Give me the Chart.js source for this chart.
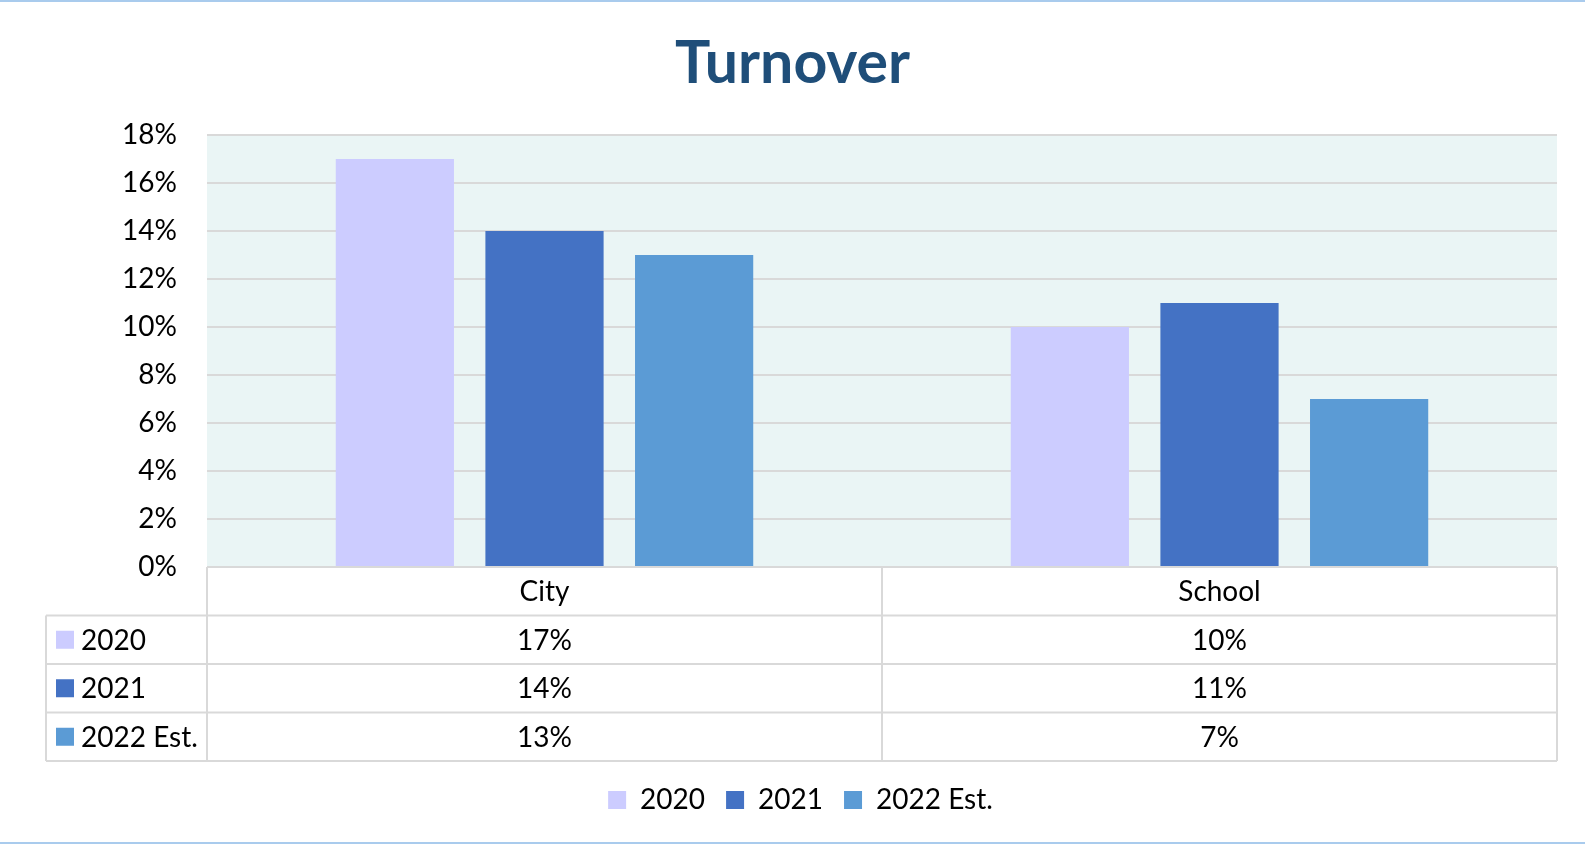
<!DOCTYPE html>
<html>
<head>
<meta charset="utf-8">
<title>Turnover</title>
<script src="https://cdn.jsdelivr.net/npm/chart.js@4"></script>
<style>
  html, body { margin: 0; padding: 0; background: #fff; }
  #wrap { position: relative; width: 1585px; height: 844px; overflow: hidden; }
  #wrap:before, #wrap:after {
    content: ""; position: absolute; left: 0; right: 0; height: 2px; background: #a9cbed;
  }
  #wrap:before { top: 0; }
  #wrap:after { bottom: 0; }
  canvas { display: block; }
</style>
</head>
<body>
<div id="wrap">
  <canvas id="turnoverChart" width="1585" height="844"></canvas>
</div>
<script>
// data
const categories = ["City", "School"];
const seriesNames = ["2020", "2021", "2022 Est."];
const values2020 = [17, 10];
const values2021 = [14, 11];
const values2022 = [13, 7];
const yTicks = [0, 2, 4, 6, 8, 10, 12, 14, 16, 18];

const colors = ["#ccccff", "#4472c4", "#5b9bd5"];
const FONT = "Lato, 'Open Sans', sans-serif";
const TXT = 28;
const lineColor = "#d9d9d9";

// light teal plot background
const plotBg = {
    id: "plotBg",
    beforeDraw(chart) {
        const {ctx, chartArea: a} = chart;
        ctx.save();
        ctx.fillStyle = "#eaf5f5";
        ctx.fillRect(a.left, a.top, a.right - a.left, a.bottom - a.top);
        ctx.restore();
    }
};

// centre title and legend on the whole canvas rather than the padded box
const nudge = {
    id: "nudge",
    afterLayout(chart) {
        chart.titleBlock.left += 14;
        chart.titleBlock.right += 14;
        chart.legend.left += 22;
        chart.legend.right += 22;
    }
};

// data table under the plot
const dataTable = {
    id: "dataTable",
    afterDraw(chart) {
        const {ctx, chartArea: a} = chart;
        const x = chart.scales.x;
        const rowH = 48.5;
        const top = a.bottom;
        const tableLeft = 46;
        const rows = chart.data.datasets.length;
        const bottom = top + rowH * (rows + 1);

        ctx.save();
        ctx.strokeStyle = lineColor;
        ctx.lineWidth = 2;

        // column edges
        const centers = categories.map((c, i) => x.getPixelForValue(i));
        const edges = [a.left];
        for (let i = 0; i < centers.length - 1; i++) edges.push((centers[i] + centers[i + 1]) / 2);
        edges.push(a.right);

        ctx.beginPath();
        ctx.moveTo(a.left, top); ctx.lineTo(a.right, top);
        for (let r = 1; r <= rows + 1; r++) {
            const y = top + r * rowH;
            ctx.moveTo(tableLeft, y); ctx.lineTo(a.right, y);
        }
        edges.forEach(ex => { ctx.moveTo(ex, top); ctx.lineTo(ex, bottom); });
        ctx.moveTo(tableLeft, top + rowH); ctx.lineTo(tableLeft, bottom);
        ctx.stroke();

        ctx.fillStyle = "#000";
        ctx.font = TXT + "px " + FONT;
        ctx.textBaseline = "middle";
        ctx.textAlign = "center";
        categories.forEach((c, i) => ctx.fillText(c, centers[i], top + rowH / 2 + 1));

        chart.data.datasets.forEach((ds, r) => {
            const cy = top + rowH * (r + 1.5);
            ctx.fillStyle = ds.backgroundColor;
            ctx.fillRect(56, cy - 9, 18, 18);
            ctx.fillStyle = "#000";
            ctx.textAlign = "left";
            ctx.fillText(ds.label, 81, cy + 1);
            ctx.textAlign = "center";
            ds.data.forEach((v, i) => ctx.fillText(v + "%", centers[i], cy + 1));
        });
        ctx.restore();
    }
};

const ctx = document.getElementById("turnoverChart").getContext("2d");

new Chart(ctx, {
    type: "bar",
    data: {
        labels: categories,
        datasets: [
            { label: seriesNames[0], data: values2020, backgroundColor: colors[0] },
            { label: seriesNames[1], data: values2021, backgroundColor: colors[1] },
            { label: seriesNames[2], data: values2022, backgroundColor: colors[2] }
        ]
    },
    options: {
        responsive: false,
        animation: false,
        devicePixelRatio: 1,
        barPercentage: 0.79,
        categoryPercentage: 0.665,
        layout: { padding: { left: 0, right: 28, top: 0, bottom: 20 } },
        plugins: {
            title: {
                display: true,
                text: "Turnover",
                color: "#1f4e79",
                font: { family: FONT, size: 59, weight: "bold" },
                padding: { top: 28.6, bottom: 35.6 }
            },
            legend: {
                position: "bottom",
                labels: {
                    color: "#000",
                    font: { family: FONT, size: TXT },
                    boxWidth: 18,
                    boxHeight: 18,
                    padding: 21
                }
            },
            tooltip: { enabled: false }
        },
        scales: {
            x: {
                grid: { display: false },
                border: { display: false },
                ticks: { display: false },
                afterFit(scale) { scale.height = 198; }
            },
            y: {
                min: yTicks[0],
                max: yTicks[yTicks.length - 1],
                afterBuildTicks(scale) { scale.ticks = yTicks.map(v => ({ value: v })); },
                grid: { color: lineColor, lineWidth: 2, drawTicks: false },
                border: { display: false },
                ticks: {
                    color: "#000",
                    font: { family: FONT, size: TXT },
                    padding: 30,
                    callback: v => v + "%"
                },
                afterFit(scale) { scale.width = 207; }
            }
        }
    },
    plugins: [plotBg, nudge, dataTable]
});
</script>
</body>
</html>
